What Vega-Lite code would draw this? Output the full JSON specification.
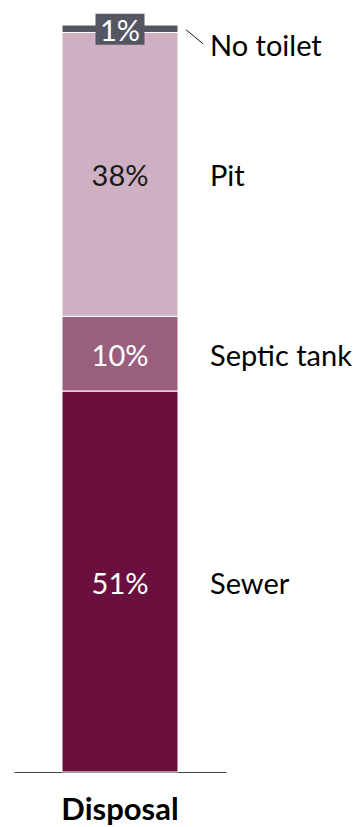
{
  "$schema": "https://vega.github.io/schema/vega-lite/v6.json",
  "width": 212,
  "height": 772,
  "autosize": {"type": "none"},
  "padding": {"left": 14, "right": 127, "top": 0, "bottom": 55},
  "config": {"view": {"stroke": null}, "font": "Lato"},
  "data": {
    "values": [
      {"group": "Disposal", "cat": "Sewer", "value": 51, "label": "51%", "rank": 1},
      {"group": "Disposal", "cat": "Septic tank", "value": 10, "label": "10%", "rank": 2},
      {"group": "Disposal", "cat": "Pit", "value": 38, "label": "38%", "rank": 3},
      {"group": "Disposal", "cat": "No toilet", "value": 1, "label": "1%", "rank": 4}
    ]
  },
  "encoding": {
    "x": {
      "field": "group", "type": "nominal",
      "scale": {"paddingInner": 0, "paddingOuter": 0},
      "axis": {
        "title": null, "ticks": false, "labelAngle": 0,
        "labelFont": "Lato", "labelFontWeight": "bold", "labelFontSize": 31,
        "labelColor": "#000000", "labelPadding": 23,
        "domainColor": "#404040", "domainWidth": 1
      }
    },
    "y": {
      "field": "value", "type": "quantitative", "stack": "zero",
      "scale": {"domain": [0, 103.35], "nice": false, "zero": true},
      "axis": null
    },
    "order": {"field": "rank", "type": "quantitative"}
  },
  "layer": [
    {
      "mark": {"type": "bar", "width": 116, "stroke": "white", "strokeWidth": 1},
      "encoding": {
        "color": {
          "field": "cat", "type": "nominal", "legend": null,
          "scale": {
            "domain": ["Sewer", "Septic tank", "Pit", "No toilet"],
            "range": ["#6b0f3e", "#9b5f7e", "#cfb0c2", "#545661"]
          }
        }
      }
    },
    {
      "mark": {"type": "point", "filled": true, "shape": "M-24.5,-15H24.5V16H-24.5Z", "size": 4, "color": "#545661", "strokeWidth": 0},
      "encoding": {
        "y": {"field": "value", "type": "quantitative", "stack": "zero", "bandPosition": 0.5},
        "detail": {"field": "cat"},
        "opacity": {"condition": {"test": "datum.cat === 'No toilet'", "value": 1}, "value": 0}
      }
    },
    {
      "mark": {"type": "point", "filled": false, "shape": "M66,1L83,15", "size": 4, "color": "#1a1a1a", "strokeWidth": 1},
      "encoding": {
        "y": {"field": "value", "type": "quantitative", "stack": "zero", "bandPosition": 0.5},
        "detail": {"field": "cat"},
        "opacity": {"condition": {"test": "datum.cat === 'No toilet'", "value": 1}, "value": 0}
      }
    },
    {
      "mark": {"type": "text", "fontSize": 29, "align": "center", "baseline": "middle", "dy": 3},
      "encoding": {
        "y": {"field": "value", "type": "quantitative", "stack": "zero", "bandPosition": 0.5},
        "detail": {"field": "cat"},
        "text": {"field": "label"},
        "color": {"condition": {"test": "datum.cat === 'Pit'", "value": "#1a1a1a"}, "value": "#ffffff"}
      }
    },
    {
      "mark": {"type": "text", "fontSize": 29, "align": "left", "baseline": "middle", "dx": 90, "dy": 3},
      "encoding": {
        "y": {"field": "value", "type": "quantitative", "stack": "zero", "bandPosition": 0.5},
        "detail": {"field": "cat"},
        "text": {"condition": {"test": "datum.cat !== 'No toilet'", "field": "cat"}, "value": ""},
        "color": {"value": "#000000"}
      }
    },
    {
      "mark": {"type": "text", "fontSize": 29, "align": "left", "baseline": "middle", "dx": 90, "dy": 18},
      "encoding": {
        "y": {"field": "value", "type": "quantitative", "stack": "zero", "bandPosition": 0.5},
        "detail": {"field": "cat"},
        "text": {"condition": {"test": "datum.cat === 'No toilet'", "field": "cat"}, "value": ""},
        "color": {"value": "#000000"}
      }
    }
  ]
}
